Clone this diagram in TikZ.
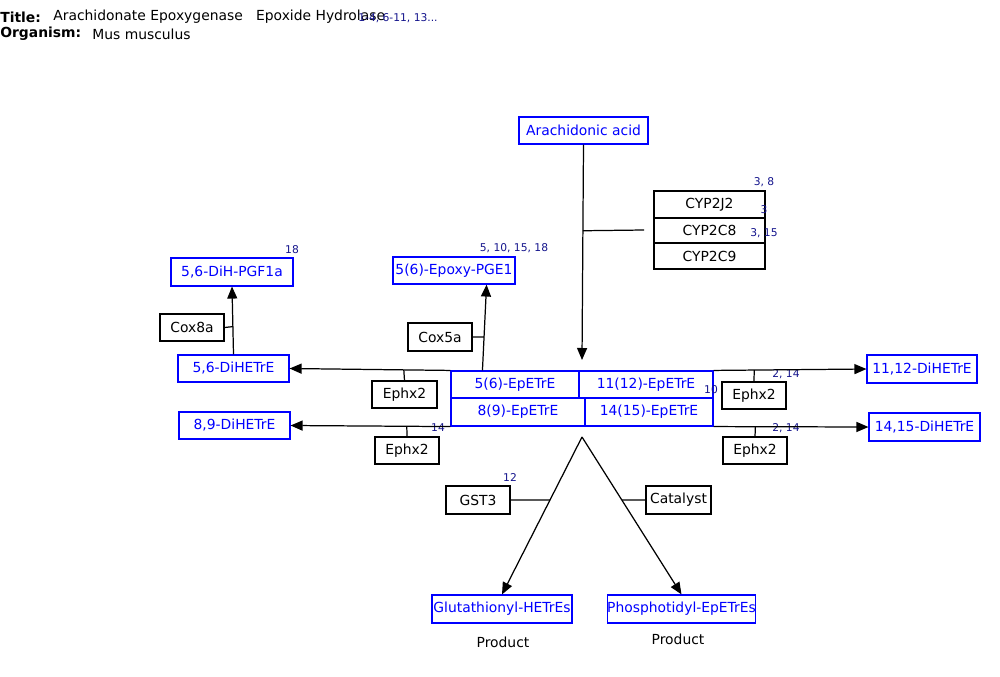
\documentclass[tikz,border=0pt]{standalone}
\usepackage{fontspec}
\setmainfont{DejaVu Sans}
\usetikzlibrary{positioning,arrows.meta,calc}
\definecolor{metblue}{RGB}{0,0,255}
\definecolor{refnum}{RGB}{20,20,140}
\tikzset{
  rxnarrow/.style={-{Triangle[length=0.24cm, width=0.2cm]}, line width=0.7pt},
  tieline/.style={line width=0.7pt},
  metab/.style={draw=metblue, text=metblue, line width=0.65pt, inner sep=0pt, minimum height=0.54cm, font=\fontsize{7.9}{9}\selectfont},
  enzyme/.style={draw, line width=0.65pt, inner sep=0pt, minimum height=0.54cm, font=\fontsize{7.9}{9}\selectfont},
  refnote/.style={text=refnum, inner sep=0pt, font=\fontsize{6.1}{7}\selectfont},
  plain/.style={inner sep=0pt, font=\fontsize{7.9}{9}\selectfont}
}
\begin{document}
\begin{tikzpicture}[x=0.02cm, y=-0.02cm]
  \useasboundingbox (0,0) rectangle (1000,676);
  % header
  \node[plain, anchor=west] (ttl) at (0,17) {\bfseries Title:};
  \node[plain, anchor=west] (ttltxt) at (53,17) {Arachidonate Epoxygenase\ \ \ Epoxide Hydrolase};
  \node[refnote] (ttlref) at (398,18) {1-4, 6-11, 13...};
  \node[plain, anchor=west] (org) at (0,34) {\bfseries Organism:};
  \node[plain, anchor=west] (orgtxt) at (92,34) {Mus musculus};

  % metabolites
  \node[metab, minimum width=2.58cm] (aa) at (583.5,130.5) {Arachidonic acid};
  \node[metab, minimum width=2.56cm] (ep56) at (515,384.5) {5(6)-EpETrE};
  \node[metab, minimum width=2.68cm, minimum height=0.56cm] (ep89) at (518,412) {8(9)-EpETrE};
  \node[metab, minimum width=2.68cm] (ep1112) at (646,384.5) {11(12)-EpETrE};
  \node[metab, minimum width=2.56cm, minimum height=0.56cm] (ep1415) at (649,412) {14(15)-EpETrE};
  \node[metab, minimum width=2.22cm] (dihe56) at (233.5,368.5) {5,6-DiHETrE};
  \node[metab, minimum width=2.22cm] (dihe89) at (234.5,425.5) {8,9-DiHETrE};
  \node[metab, minimum width=2.2cm, minimum height=0.56cm] (dihe1112) at (922,369) {11,12-DiHETrE};
  \node[metab, minimum width=2.22cm, minimum height=0.56cm] (dihe1415) at (924.5,427) {14,15-DiHETrE};
  \node[metab, minimum width=2.44cm, minimum height=0.56cm] (pgf) at (232,272) {5,6-DiH-PGF1a};
  \node[metab, minimum width=2.44cm] (pge) at (454,270.5) {5(6)-Epoxy-PGE1};
  \node[metab, minimum width=2.8cm, minimum height=0.56cm] (glu) at (502,609) {Glutathionyl-HETrEs};
  \node[metab, minimum width=2.94cm, minimum height=0.56cm] (pho) at (681.5,609) {Phosphotidyl-EpETrEs};

  % enzymes
  \node[enzyme, minimum width=2.22cm] (cyp2j2) at (709.5,204.5) {CYP2J2};
  \node[enzyme, minimum width=2.22cm, minimum height=0.5cm] (cyp2c8) at (709.5,230.5) {CYP2C8};
  \node[enzyme, minimum width=2.22cm, minimum height=0.52cm] (cyp2c9) at (709.5,256) {CYP2C9};
  \node[enzyme, minimum width=1.3cm] (ephxA) at (404.5,394.5) {Ephx2};
  \node[enzyme, minimum width=1.28cm] (ephxB) at (407,450.5) {Ephx2};
  \node[enzyme, minimum width=1.28cm] (ephxC) at (754,395.5) {Ephx2};
  \node[enzyme, minimum width=1.28cm] (ephxD) at (755,450.5) {Ephx2};
  \node[enzyme, minimum width=1.28cm] (cox8a) at (192,327.5) {Cox8a};
  \node[enzyme, minimum width=1.28cm, minimum height=0.56cm] (cox5a) at (440,337) {Cox5a};
  \node[enzyme, minimum width=1.28cm, minimum height=0.56cm] (gst3) at (478,500) {GST3};
  \node[enzyme, minimum width=1.3cm, minimum height=0.56cm] (catal) at (678.5,500) {Catalyst};

  % reference numbers
  \node[refnote] (r1) at (764,182) {3, 8};
  \node[refnote] (r2) at (764,210) {3};
  \node[refnote] (r3) at (764,233) {3, 15};
  \node[refnote] (r4) at (292,250) {18};
  \node[refnote] (r5) at (514,248) {5, 10, 15, 18};
  \node[refnote] (r6) at (711,390) {10};
  \node[refnote] (r7) at (438,428) {14};
  \node[refnote] (r8) at (786,374) {2, 14};
  \node[refnote] (r9) at (786,428) {2, 14};
  \node[refnote] (r10) at (510,478) {12};

  \node[plain] (prodA) at (503,642) {Product};
  \node[plain] (prodB) at (678,639) {Product};

  % arachidonic acid -> epoxides
  \coordinate (aaend) at (582,360);
  \draw[rxnarrow] (aa.south) -- (aaend);
  \coordinate (cyptie) at ($(aa.south)!0.4!(aaend)$);
  \coordinate (cypend) at (644,230);
  \draw[tieline] (cyptie) -- (cypend);

  % hydrolysis
  \draw[rxnarrow] (ep56.north west) -- (dihe56.east);
  \draw[tieline] ($(ep56.north west)!0.29!(dihe56.east)$) -- (ephxA.north);
  \draw[rxnarrow] (ep89.south west) -- (dihe89.east);
  \draw[tieline] ($(ep89.south west)!0.273!(dihe89.east)$) -- (ephxB.north);
  \draw[rxnarrow] (ep1112.north east) -- (dihe1112.west);
  \draw[tieline] ($(ep1112.north east)!0.266!(dihe1112.west)$) -- (ephxC.north);
  \draw[rxnarrow] (ep1415.south east) -- (dihe1415.west);
  \draw[tieline] ($(ep1415.south east)!0.27!(dihe1415.west)$) -- (ephxD.north);

  % oxidation branches
  \draw[rxnarrow] (dihe56.north) -- (pgf.south);
  \draw[tieline] ($(dihe56.north)!0.41!(pgf.south)$) -- (cox8a.east);
  \coordinate (pgestart) at ($(ep56.north west)+(32,0)$);
  \coordinate (pgeend) at ($(pge.south east)+(-29,0)$);
  \draw[rxnarrow] (pgestart) -- (pgeend);
  \draw[tieline] ($(pgestart)!0.39!(pgeend)$) -- (cox5a.east);

  % conjugation split
  \coordinate (apex) at (582,437);
  \draw[rxnarrow] (apex) -- (glu.north);
  \draw[rxnarrow] (apex) -- (pho.north);
  \draw[tieline] ($(apex)!0.4!(glu.north)$) -- (gst3.east);
  \draw[tieline] ($(apex)!0.4!(pho.north)$) -- (catal.west);
\end{tikzpicture}
\end{document}
